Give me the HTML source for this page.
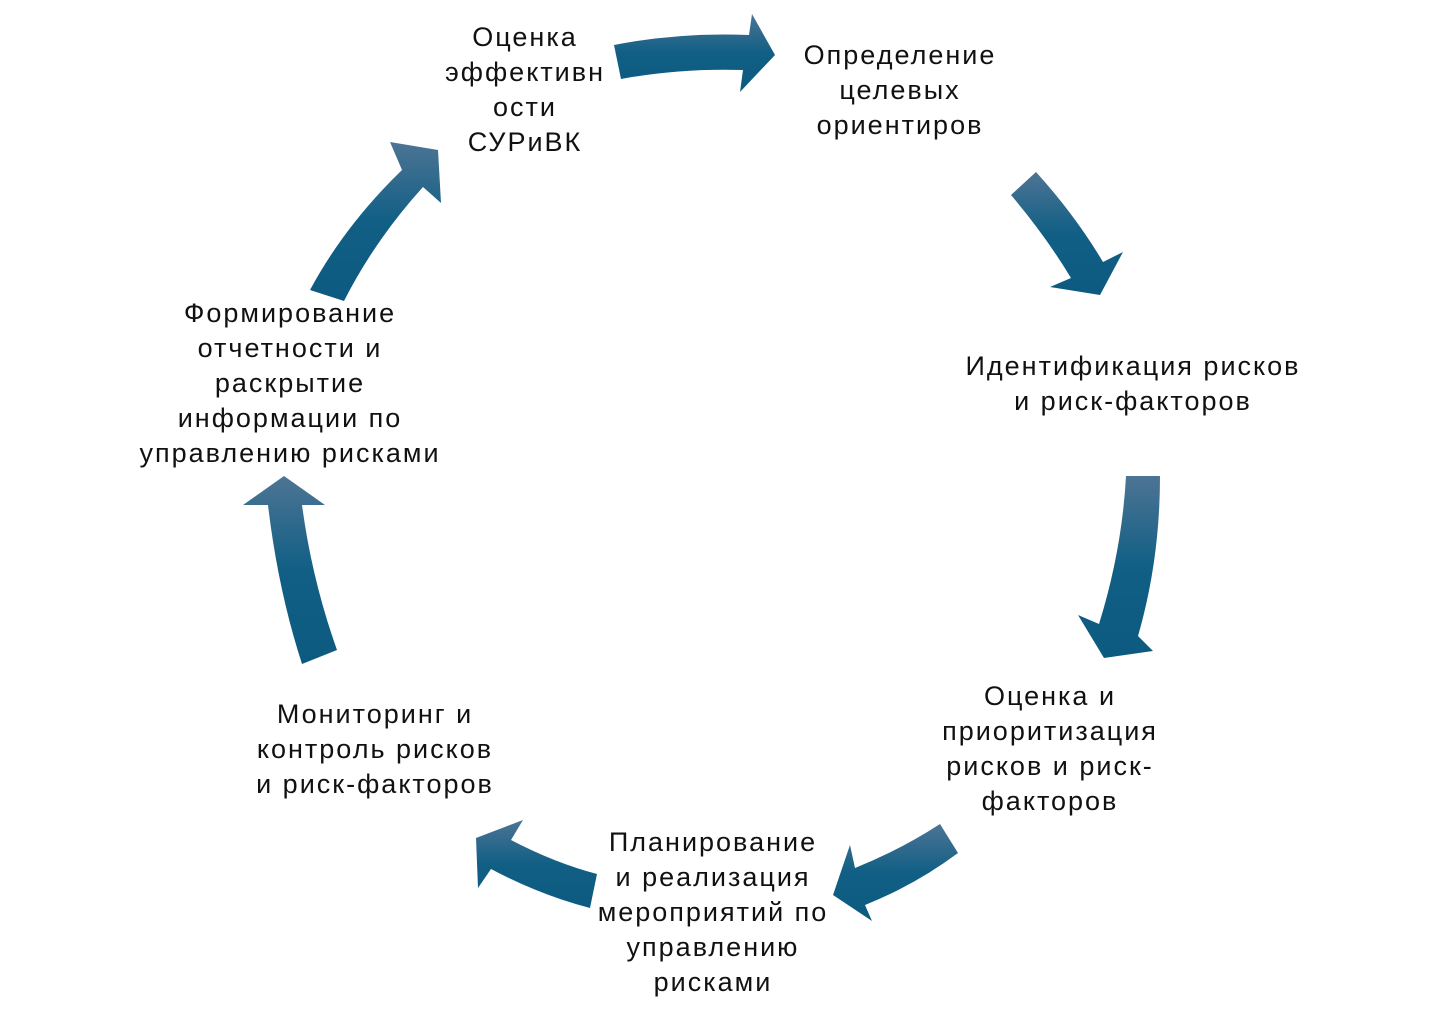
<!DOCTYPE html>
<html><head><meta charset="utf-8"><style>
body{margin:0;width:1454px;height:1020px;background:#fff;position:relative;overflow:hidden;font-family:"Liberation Sans","DejaVu Sans",sans-serif;}
.t{position:absolute;text-align:center;font-size:27px;letter-spacing:2px;line-height:35px;color:#111;white-space:nowrap;transform:translateX(-50%);}
svg{position:absolute;left:0;top:0;}
</style></head><body>
<svg width="1454" height="1020">
<defs><linearGradient id="g" x1="0" y1="0" x2="0" y2="1"><stop offset="0" stop-color="#4d7494"/><stop offset="0.5" stop-color="#115f85"/><stop offset="1" stop-color="#0d5a80"/></linearGradient></defs>
<g fill="url(#g)">
<path d="M614,45 Q680,32 749,35 L752,14 L775,55 L740,92 L743,70 Q680,68 621,79 Z"/>
<path d="M1036,172 Q1075,215 1103,262 L1123,252 L1100,295 L1050,287 L1071,278 Q1045,235 1011,195 Z"/>
<path d="M1126,476 L1160,476 Q1160,560 1138,636 L1153,651 L1104,658 L1078,615 L1099,624 Q1122,550 1126,476 Z"/>
<path d="M940,824 L958,853 Q915,885 865,905 L872,921 L833,895 L850,845 L855,868 Q900,850 940,824 Z"/>
<path d="M597,874 L590,908 Q540,895 491,869 L478,888 L476,838 L523,820 L511,840 Q555,863 597,874 Z"/>
<path d="M302,664 Q278,590 268,505 L243,505 L284,476 L325,505 L302,505 Q312,580 337,650 Z"/>
<path d="M310,290 Q345,225 402,170 L390,142 L438,150 L441,203 L423,187 Q375,240 344,301 Z"/>
</g></svg>
<div class="t" style="left:525px;top:20px">Оценка<br>эффективн<br>ости<br>СУРиВК</div>
<div class="t" style="left:900px;top:38px">Определение<br>целевых<br>ориентиров</div>
<div class="t" style="left:1133px;top:349px">Идентификация рисков<br>и риск-факторов</div>
<div class="t" style="left:1050px;top:679px">Оценка и<br>приоритизация<br>рисков и риск-<br>факторов</div>
<div class="t" style="left:713px;top:825px">Планирование<br>и реализация<br>мероприятий по<br>управлению<br>рисками</div>
<div class="t" style="left:375px;top:697px">Мониторинг и<br>контроль рисков<br>и риск-факторов</div>
<div class="t" style="left:290px;top:296px">Формирование<br>отчетности и<br>раскрытие<br>информации по<br>управлению рисками</div>
</body></html>
